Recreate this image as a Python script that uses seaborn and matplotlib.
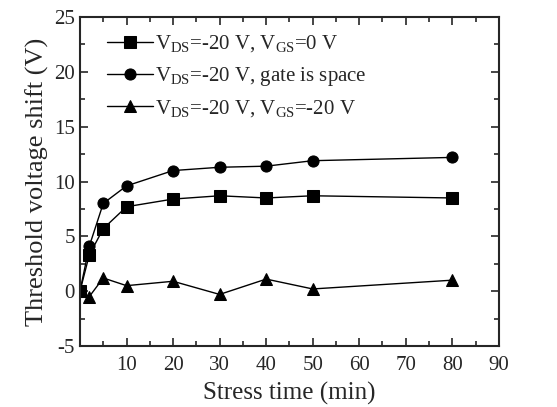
import pandas as pd
import matplotlib.pyplot as plt
import seaborn as sns
from matplotlib.ticker import MultipleLocator

# Values
time_min = [0, 2, 5, 10, 20, 30, 40, 50, 80]
shift_gs0 = [0, 3.3, 5.7, 7.7, 8.4, 8.7, 8.5, 8.7, 8.5]
shift_space = [0, 4.1, 8.0, 9.6, 11.0, 11.3, 11.4, 11.9, 12.2]
shift_gs20 = [0, -0.5, 1.2, 0.5, 0.9, -0.3, 1.1, 0.2, 1.0]

labels = [r'$\mathregular{V_{DS}}$=-20 V, $\mathregular{V_{GS}}$=0 V',
          r'$\mathregular{V_{DS}}$=-20 V, gate is space',
          r'$\mathregular{V_{DS}}$=-20 V, $\mathregular{V_{GS}}$=-20 V']

df = pd.concat([
    pd.DataFrame({'time': time_min, 'shift': shift_gs0, 'cond': labels[0]}),
    pd.DataFrame({'time': time_min, 'shift': shift_space, 'cond': labels[1]}),
    pd.DataFrame({'time': time_min, 'shift': shift_gs20, 'cond': labels[2]}),
])

sns.set_style('ticks')
plt.rcParams['font.family'] = ['Liberation Serif', 'DejaVu Serif']
plt.rcParams['mathtext.fontset'] = 'custom'
plt.rcParams['mathtext.rm'] = 'Liberation Serif'
plt.rcParams['axes.unicode_minus'] = False

fig = plt.figure(figsize=(5.57, 4.07), dpi=100)
ax = fig.add_axes([0.1436, 0.150, 0.752, 0.808])

sns.lineplot(data=df, x='time', y='shift', hue='cond', style='cond',
             hue_order=labels, style_order=labels,
             palette=['black'] * 3, markers=['s', 'o', '^'], dashes=False,
             markersize=8, linewidth=1, markeredgecolor='black', ax=ax)

ax.set_xlim(0, 90)
ax.set_ylim(-5, 25)
ax.xaxis.set_minor_locator(MultipleLocator(5))
ax.yaxis.set_major_locator(MultipleLocator(5))
ax.yaxis.set_minor_locator(MultipleLocator(2.5))
ax.set_xticks([10, 20, 30, 40, 50, 60, 70, 80, 90])
ax.tick_params(which='both', direction='in', top=True, right=True, width=1.2, labelsize=15)
ax.tick_params(axis='x', which='major', pad=7)
ax.tick_params(which='major', length=6)
ax.tick_params(which='minor', length=3.5)
for s in ax.spines.values():
    s.set_linewidth(1.5)

ax.set_xlabel('Stress time (min)', fontsize=18, labelpad=5)
ax.set_ylabel('Threshold voltage shift (V)', fontsize=19, labelpad=4)

leg = ax.legend(loc='upper left', bbox_to_anchor=(0.065, 0.95), frameon=False,
                fontsize=15, handlelength=2.2, handletextpad=0.1,
                labelspacing=0.5, borderaxespad=0, borderpad=0)

fig.savefig('out.png', dpi=100)
